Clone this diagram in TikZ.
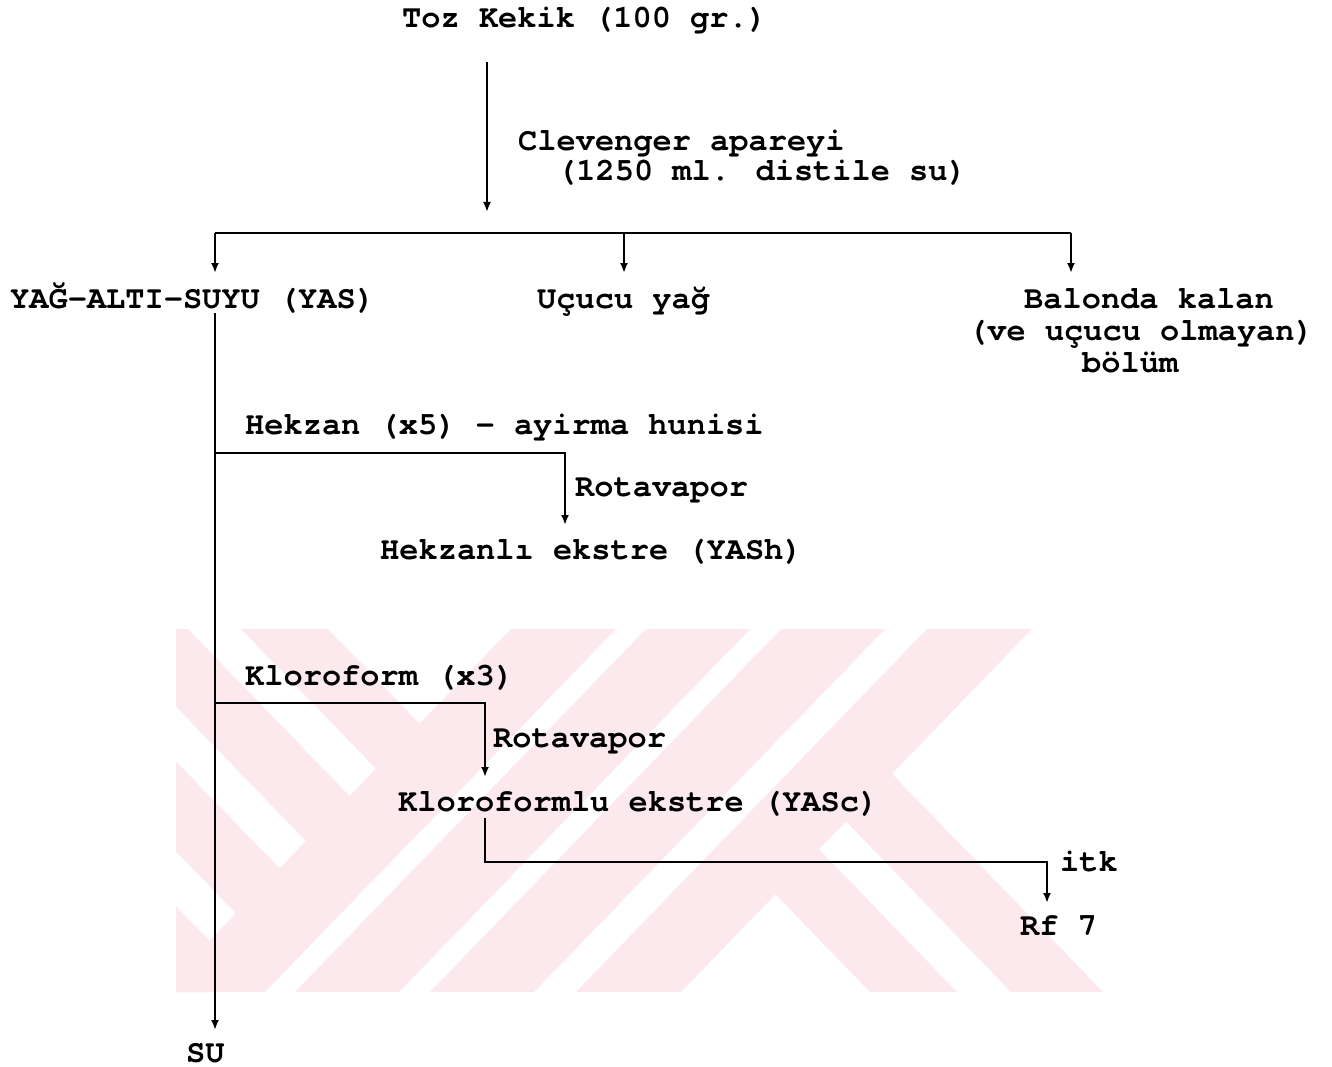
\documentclass[tikz,border=0pt]{standalone}
\usepackage{fontspec}
\setmainfont{TeX Gyre Cursor}
\usetikzlibrary{arrows.meta}
\definecolor{wm}{RGB}{252,233,237}
\tikzset{
  txt/.style={inner sep=0pt, anchor=base west, font=\fontsize{32}{32}\selectfont\bfseries},
  conn/.style={line width=2.4pt},
  arr/.style={conn, -{Latex[length=10pt,width=8pt]}},
}
\begin{document}
\begin{tikzpicture}[x=1pt,y=-1pt]
\useasboundingbox[fill=white] (0,0) rectangle (1332,1067);
% watermark
\begin{scope}
  \clip (176,629) rectangle (1105,992);
  \foreach \e/\w in {511/105,646/104,781/104,927/105}
    \fill[wm] (\e,629) -- (\e+\w,629) -- (\e+\w-351,992) -- (\e-351,992) -- cycle;
  \begin{scope}
    \clip (176,629) -- (560,629) -- (209,992) -- (176,992) -- cycle;
    \foreach \c in {241,101,-39,-179}
      \fill[wm] (\c,629) -- (\c+87,629) -- (\c+438,992) -- (\c+351,992) -- cycle;
  \end{scope}
  \begin{scope}
    \clip (990,629) -- (1105,629) -- (1105,992) -- (639,992) -- cycle;
    \foreach \c/\w in {519/87,660/92}
      \fill[wm] (\c,629) -- (\c+\w,629) -- (\c+\w+351,992) -- (\c+351,992) -- cycle;
  \end{scope}
\end{scope}
% texts
\node[txt] (toz) at (402,28) {Toz Kekik (100 gr.)};
\node[txt] (clev) at (518,151) {Clevenger apareyi};
\node[txt] (dist) at (557,181) {(1250 ml. distile su)};
\node[txt] (yas) at (10,308) {YAĞ-ALTI-SUYU (YAS)};
\node[txt] (ucucu) at (537,308) {Uçucu yağ};
\node[txt] (bal1) at (1024,308) {Balonda kalan};
\node[txt] (bal2) at (968,340) {(ve uçucu olmayan)};
\node[txt] (bal3) at (1082,372) {bölüm};
\node[txt] (hekzan) at (245,434) {Hekzan (x5) - ayirma hunisi};
\node[txt] (rota1) at (575,496) {Rotavapor};
\node[txt] (yash) at (380,559) {Hekzanlı ekstre (YASh)};
\node[txt] (klor) at (245,685) {Kloroform (x3)};
\node[txt] (rota2) at (493,747) {Rotavapor};
\node[txt] (yasc) at (398,811) {Kloroformlu ekstre (YASc)};
\node[txt] (itk) at (1060,871) {itk};
\node[txt] (rf) at (1020,935) {Rf 7};
\node[txt] (su) at (186,1062) {SU};
% connectors
\coordinate (a0) at (487,62);
\coordinate (a1) at (487,212);
\draw[arr] (a0) -- (a1);
\coordinate (hl) at (215,233);
\coordinate (hm) at (624,233);
\coordinate (hr) at (1071,233);
\draw[conn] (hl) -- (hr);
\draw[arr] (hl) -- ++(0,40);
\draw[arr] (hm) -- ++(0,40);
\draw[arr] (hr) -- ++(0,40);
\coordinate (v0) at (215,313);
\coordinate (v1) at (215,1030);
\draw[arr] (v0) -- (v1);
\coordinate (b1) at (215,453);
\coordinate (t1) at (565,525);
\draw[arr] (b1) -| (t1);
\coordinate (b2) at (215,703);
\coordinate (t2) at (485,777);
\draw[arr] (b2) -| (t2);
\coordinate (b3) at (485,818);
\coordinate (c3) at (1047,862);
\coordinate (t3) at (1047,903);
\draw[arr] (b3) |- (c3) -- (t3);
\end{tikzpicture}
\end{document}
